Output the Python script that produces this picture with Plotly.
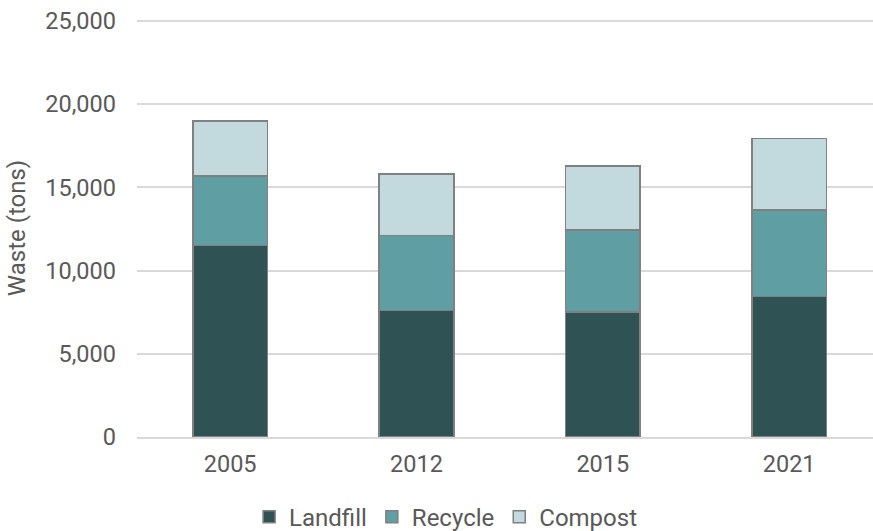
import plotly.graph_objects as go

years = ["2005", "2012", "2015", "2021"]
landfill = [11500, 7600, 7500, 8450]
recycle = [4200, 4500, 4950, 5200]
compost = [3300, 3700, 3850, 4300]

series = [("Landfill", landfill, "#2F5254"), ("Recycle", recycle, "#5F9FA4"), ("Compost", compost, "#C2D9DD")]

fig = go.Figure()
for name, vals, col in series:
    fig.add_trace(go.Bar(x=years, y=vals, name=name, marker=dict(color=col, line=dict(color="#808080", width=1.5))))

font = dict(family="Roboto", size=23.5, color="#595959")
fig.update_layout(
    barmode="stack", bargap=0.6,
    width=873, height=531,
    margin=dict(l=137, r=0, t=19, b=94),
    paper_bgcolor="white", plot_bgcolor="white",
    font=font,
    xaxis=dict(type="category", range=[-0.5, 3.45], showgrid=False, showline=True, linecolor="#D9D9D9", linewidth=1.5, ticks="", tickfont=font,
               ticklabelstandoff=5),
    yaxis=dict(range=[0, 25120], tickvals=[0, 5000, 10000, 15000, 20000, 25000], tickformat=",", showgrid=True, gridcolor="#D9D9D9", gridwidth=1.5, zeroline=False, ticks="", ticklen=0,
               ticklabelstandoff=20,
               title=dict(text="Waste (tons)", font=dict(family="Roboto", size=24, color="#595959"), standoff=12), tickfont=font),
    legend=dict(orientation="h", xref="container", yref="container", x=0.511, xanchor="center", y=0.026, yanchor="middle", font=dict(family="Roboto", size=24, color="#595959"), traceorder="normal", itemwidth=30),
    showlegend=True,
)
fig.write_html("out.html")
